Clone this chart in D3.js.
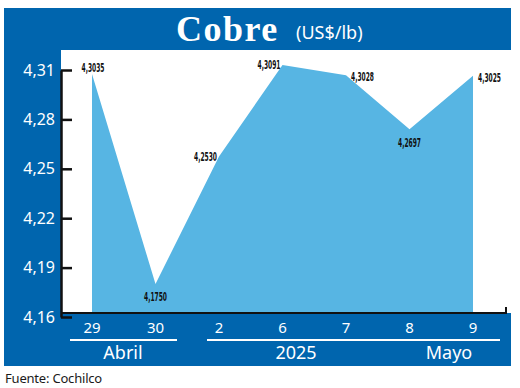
<!DOCTYPE html>
<html>
<head>
<meta charset="utf-8">
<script src="https://cdn.jsdelivr.net/npm/d3@7"></script>
<style>
  body { margin: 0; background: #fff; }
  svg { display: block; }
</style>
</head>
<body>
<div id="chart"></div>
<script>
'use strict';

// data
const days = ['29', '30', '2', '6', '7', '8', '9'];
const prices = [4.3035, 4.1750, 4.2530, 4.3091, 4.3028, 4.2697, 4.3025];
const priceLabels = ['4,3035', '4,1750', '4,2530', '4,3091', '4,3028', '4,2697', '4,3025'];
const yTicks = [4.16, 4.19, 4.22, 4.25, 4.28, 4.31];
// where each value label sits relative to its point
const labelSide = ['above', 'below', 'left', 'left', 'right', 'below', 'right'];

const W = 520, H = 388;
const dark = '#0065ae';
const light = '#57b5e3';

const svg = d3.select('#chart').append('svg')
  .attr('width', W)
  .attr('height', H)
  .attr('viewBox', `0 0 ${W} ${H}`);

// blue frame: title band, left column, bottom band
svg.append('rect').attr('x', 4).attr('y', 8).attr('width', 507).attr('height', 42).attr('fill', dark);
svg.append('rect').attr('x', 4).attr('y', 8).attr('width', 57).attr('height', 358).attr('fill', dark);
svg.append('rect').attr('x', 4).attr('y', 313).attr('width', 507).attr('height', 53).attr('fill', dark);

// title
svg.append('text')
  .attr('x', 176).attr('y', 41)
  .attr('fill', '#fff')
  .style('font-family', '"Liberation Serif", "DejaVu Serif", serif')
  .style('font-weight', 'bold')
  .style('font-size', '36px')
  .style('letter-spacing', '1.5px')
  .text('Cobre');
svg.append('text')
  .attr('x', 296).attr('y', 39)
  .attr('fill', '#fff')
  .style('font-family', '"Noto Sans", sans-serif')
  .style('font-size', '18px')
  .text('(US$/lb)');

// scales
const x = d3.scalePoint().domain(days).range([92, 473]);
const y = d3.scaleLinear().domain([4.16, 4.31]).range([317, 70]);        // axis ticks
const yArea = d3.scaleLinear().domain([4.16, 4.31]).range([308.5, 63.5]); // drawn series
const baseY = 313;

const series = days.map((d, i) => ({ day: d, value: prices[i], label: priceLabels[i], side: labelSide[i] }));

// area
const area = d3.area()
  .x(d => x(d.day))
  .y0(baseY)
  .y1(d => yArea(d.value));

svg.append('path')
  .datum(series)
  .attr('d', area)
  .attr('fill', light);

// baseline with a small end tick
svg.append('path')
  .attr('d', `M61,${baseY}H506V${baseY - 6}`)
  .attr('fill', 'none')
  .attr('stroke', '#111')
  .attr('stroke-width', 2);

// y axis, ticks pointing into the plot
const yAxis = d3.axisLeft(y)
  .tickValues(yTicks)
  .tickSizeInner(-11)
  .tickSizeOuter(0)
  .tickPadding(6)
  .tickFormat(d => d3.format('.2f')(d).replace('.', ','));

const gy = svg.append('g')
  .attr('transform', 'translate(61,0)')
  .call(yAxis);
gy.select('.domain').attr('stroke', '#111').attr('stroke-width', 2.5);
gy.selectAll('.tick line').attr('stroke', '#111').attr('stroke-width', 2.5);
gy.selectAll('.tick text')
  .attr('fill', '#fff')
  .style('font-family', '"Noto Sans", sans-serif')
  .style('font-size', '16px');

// value labels
const offsets = {
  above: { dx: 1, dy: -6, anchor: 'middle' },
  below: { dx: 0, dy: 13, anchor: 'middle' },
  left: { dx: -2, dy: 0, anchor: 'end' },
  right: { dx: 5, dy: 2, anchor: 'start' }
};

// condensed bold figures, squeezed to the width seen in the picture
svg.append('g').selectAll('text')
  .data(series)
  .enter().append('text')
  .attr('x', d => x(d.day) + offsets[d.side].dx)
  .attr('y', d => yArea(d.value) + offsets[d.side].dy)
  .attr('dy', '0.35em')
  .attr('text-anchor', d => offsets[d.side].anchor)
  .attr('textLength', 23)
  .attr('lengthAdjust', 'spacingAndGlyphs')
  .attr('fill', '#111')
  .style('font-family', '"DejaVu Sans Condensed", "Liberation Sans", sans-serif')
  .style('font-weight', 'bold')
  .style('font-size', '12px')
  .text(d => d.label);

// day labels in the bottom band
svg.append('g').selectAll('text')
  .data(days)
  .enter().append('text')
  .attr('x', d => x(d))
  .attr('y', 333)
  .attr('text-anchor', 'middle')
  .attr('fill', '#fff')
  .style('font-family', '"Noto Sans", sans-serif')
  .style('font-size', '15px')
  .text(d => d);

// month / year groups
const groupLines = [[70, 177], [207, 500]];
const groupNames = ['Abril', '2025', 'Mayo'];
const groupX = [123, 296, 449];

svg.append('g').selectAll('line')
  .data(groupLines)
  .enter().append('line')
  .attr('x1', d => d[0]).attr('x2', d => d[1])
  .attr('y1', 340).attr('y2', 340)
  .attr('stroke', '#fff')
  .attr('stroke-width', 2);

svg.append('g').selectAll('text')
  .data(groupNames)
  .enter().append('text')
  .attr('x', (d, i) => groupX[i])
  .attr('y', 359)
  .attr('text-anchor', 'middle')
  .attr('fill', '#fff')
  .style('font-family', '"Noto Sans", sans-serif')
  .style('font-size', '18px')
  .text(d => d);

// source
svg.append('text')
  .attr('x', 5).attr('y', 383)
  .attr('fill', '#1a1a1a')
  .style('font-family', '"Noto Sans", sans-serif')
  .style('font-size', '13px')
  .style('letter-spacing', '-0.2px')
  .text('Fuente: Cochilco');
</script>
</body>
</html>
